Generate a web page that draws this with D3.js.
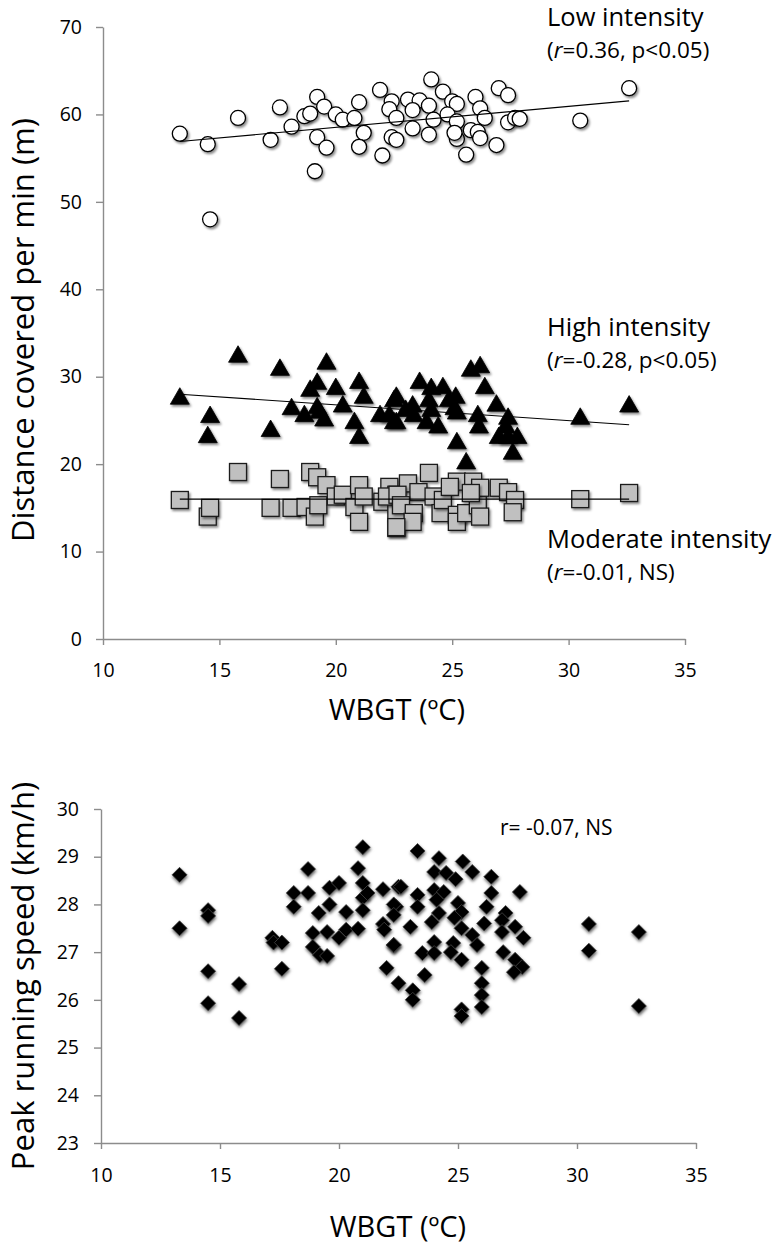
<!DOCTYPE html>
<html>
<head>
<meta charset="utf-8">
<script src="https://cdn.jsdelivr.net/npm/d3@7"></script>
<style>
  html, body { margin: 0; padding: 0; background: #fff; }
  svg { display: block; font-family: "Open Sans", "Noto Sans", sans-serif; }
</style>
</head>
<body>
<svg id="chart" width="780" height="1244"></svg>
<script>
// ---------- DATA ----------
const xTicks = [10, 15, 20, 25, 30, 35];
const yTicksTop = [0, 10, 20, 30, 40, 50, 60, 70];
const yTicksBottom = [23, 24, 25, 26, 27, 28, 29, 30];

const lowX = [13.3,14.5,14.6,15.8,17.2,17.6,18.1,18.65,18.9,19.2,19.2,19.1,19.5,19.6,20.0,20.3,20.8,21.0,21.2,21.0,21.9,22.0,22.4,22.3,22.6,22.4,22.6,24.1,24.6,23.1,23.6,24.0,25.0,25.2,26.0,26.2,27.0,27.4,23.3,24.2,24.8,25.2,26.4,27.4,27.7,27.9,23.3,24.0,25.2,25.1,25.8,26.1,26.2,26.9,25.6,30.5,32.6];
const lowY = [57.8,56.6,48.0,59.6,57.1,60.8,58.6,59.8,60.1,62.0,57.4,53.5,60.9,56.2,60.0,59.4,59.6,61.4,57.9,56.3,62.8,55.3,61.5,60.6,59.6,57.4,57.1,64.0,62.6,61.7,61.6,61.0,61.5,61.2,62.0,60.7,63.0,62.2,60.5,59.4,60.0,59.2,59.6,59.1,59.6,59.5,58.4,57.7,57.2,57.9,58.2,58.0,57.3,56.5,55.4,59.3,63.0];

const highX = [13.3,14.6,14.5,15.8,17.2,17.6,18.1,18.65,18.9,19.2,19.6,19.2,19.3,19.5,20.0,20.3,21.0,21.2,20.8,21.0,21.9,22.6,22.5,22.5,23.6,24.1,24.6,25.8,26.2,26.4,26.9,22.3,23.0,23.3,23.35,22.6,24.0,24.1,23.9,24.4,24.85,25.1,25.2,25.15,25.2,25.6,26.1,26.15,27.4,27.0,27.4,27.8,27.6,27.3,30.5,32.6];
const highY = [27.6,25.5,23.2,32.4,23.9,30.9,26.4,25.6,28.5,29.3,31.6,26.5,26.0,25.1,28.7,26.7,29.4,27.7,24.8,23.1,25.6,27.7,24.8,27.3,29.4,28.7,28.8,30.8,31.2,28.8,26.8,25.6,26.2,26.7,25.6,24.8,27.3,26.2,24.8,24.3,27.3,26.4,25.9,27.7,22.5,20.2,25.6,24.3,25.3,23.1,23.1,23.1,21.3,24.3,25.3,26.7];

const modX = [13.3,14.5,14.6,15.8,17.2,17.6,18.1,18.7,18.9,19.1,19.25,19.2,19.6,20.0,20.3,20.8,21.0,21.0,21.2,22.0,22.3,22.6,22.6,22.6,23.1,24.0,23.55,24.2,25.2,25.9,26.2,27.0,22.2,22.65,22.8,23.35,23.3,22.6,24.5,24.6,25.2,25.2,25.6,26.1,26.2,27.4,27.7,27.6,24.9,25.8,30.5,32.6];
const modY = [15.9,14.0,15.0,19.1,15.0,18.3,15.0,15.1,19.1,14.0,15.3,18.5,17.6,16.3,16.5,15.1,13.4,17.6,16.3,15.7,17.4,14.4,12.7,16.5,17.8,19.0,16.8,16.3,18.0,18.0,17.3,17.3,16.3,16.5,15.3,14.4,13.4,12.8,14.4,15.9,14.2,13.4,14.4,15.3,14.0,16.8,15.9,14.5,17.4,16.7,16.0,16.7];

const peakX = [13.3,13.3,14.5,14.5,14.5,14.5,15.8,15.8,17.2,17.25,17.6,17.6,18.1,18.1,18.7,18.7,18.9,18.9,19.15,19.2,19.5,19.6,19.6,19.5,20.0,20.0,20.3,20.3,20.8,20.8,21.0,21.0,21.0,21.0,21.2,21.85,21.85,22.0,22.3,22.4,22.5,22.5,21.9,23.3,24.2,25.2,25.6,26.4,27.6,24.0,24.5,24.9,22.6,23.3,24.0,24.4,26.4,22.3,23.3,24.1,25.0,26.2,24.2,25.15,27.0,22.3,23.0,23.9,24.85,25.15,26.1,26.85,27.4,26.85,25.6,27.75,22.3,24.0,24.8,25.8,23.5,24.0,24.7,25.15,26.9,27.4,27.7,27.35,23.6,26.0,23.1,23.1,26.0,26.0,26.0,25.15,25.15,30.5,30.5,32.6,32.6];
const peakY = [28.62,27.5,27.88,27.76,26.6,25.93,26.33,25.62,27.3,27.2,27.2,26.65,28.24,27.95,28.74,28.24,27.4,27.11,27.82,26.94,26.92,28.35,28.0,27.42,28.45,27.3,27.84,27.47,28.76,27.49,29.2,28.45,28.14,27.88,28.24,28.32,27.59,26.67,27.15,27.95,26.35,28.37,27.47,29.12,28.97,28.9,28.68,28.58,28.26,28.68,28.66,28.53,28.37,28.2,28.3,28.26,28.24,28.0,27.95,28.1,28.03,27.95,27.82,27.84,27.82,27.78,27.53,27.63,27.72,27.5,27.6,27.67,27.53,27.42,27.36,27.3,27.15,27.21,27.19,27.15,26.98,26.98,27.0,26.84,27.0,26.84,26.69,26.58,26.52,26.67,26.2,26.0,26.35,26.1,25.85,25.8,25.66,27.59,27.03,27.42,25.87];

// trend line end points [x, y]
const trendLow = [[13.3, 56.9], [32.6, 61.55]];
const trendHigh = [[13.3, 28.0], [32.6, 24.5]];
const trendMod = [[13.3, 16.0], [32.6, 16.0]];

// ---------- DRAW ----------
const svg = d3.select("#chart");
const defs = svg.append("defs");
const f1 = defs.append("filter").attr("id", "shadow").attr("x", "-50%").attr("y", "-50%").attr("width", "200%").attr("height", "200%");
f1.append("feDropShadow").attr("dx", 1.5).attr("dy", 2).attr("stdDeviation", 1.2).attr("flood-color", "#000").attr("flood-opacity", 0.45);
const f2 = defs.append("filter").attr("id", "shadow2").attr("x", "-60%").attr("y", "-60%").attr("width", "220%").attr("height", "220%");
f2.append("feDropShadow").attr("dx", 0.5).attr("dy", 2).attr("stdDeviation", 1.8).attr("flood-color", "#000").attr("flood-opacity", 0.6);

const axisColor = "#8c8c8c";
const fmt = d3.format("d");

function styleAxis(g) {
  g.selectAll("path.domain").attr("stroke", axisColor).attr("stroke-width", 1.4);
  g.selectAll(".tick line").attr("stroke", axisColor).attr("stroke-width", 1.4);
  g.selectAll(".tick text").attr("fill", "#000").style("font-size", "19.5px").style("font-family", '"Open Sans", sans-serif');
}

// ---- Top chart ----
const xTop = d3.scaleLinear().domain([10, 35]).range([103, 685]);
const yTop = d3.scaleLinear().domain([0, 70]).range([639, 27]);

const gxTop = svg.append("g").attr("transform", `translate(0,${yTop(0)})`)
  .call(d3.axisBottom(xTop).tickValues(xTicks).tickFormat(fmt).tickSize(6).tickPadding(18).tickSizeOuter(0));
styleAxis(gxTop);
const gyTop = svg.append("g").attr("transform", `translate(${xTop(10)},0)`)
  .call(d3.axisLeft(yTop).tickValues(yTicksTop).tickFormat(fmt).tickSize(7).tickPadding(14).tickSizeOuter(0));
styleAxis(gyTop);

const line = (xs, ys) => d3.line().x(d => xs(d[0])).y(d => ys(d[1]));

// squares (moderate)
const modData = modX.map((x, i) => [x, modY[i]]);
svg.append("g").selectAll("rect").data(modData).join("rect")
  .attr("x", d => xTop(d[0]) - 8.5).attr("y", d => yTop(d[1]) - 8.5)
  .attr("width", 17).attr("height", 17)
  .attr("fill", "#c0c0c0").attr("stroke", "#1a1a1a").attr("stroke-width", 1.3)
  .attr("filter", "url(#shadow)");

// triangles (high)
const highData = highX.map((x, i) => [x, highY[i]]);
svg.append("g").selectAll("path").data(highData).join("path")
  .attr("d", "M0,-10 L9.5,6.5 L-9.5,6.5Z")
  .attr("transform", d => `translate(${xTop(d[0])},${yTop(d[1])})`)
  .attr("fill", "#000").attr("stroke", "#000").attr("stroke-width", 0.8)
  .attr("filter", "url(#shadow)");

// circles (low)
const lowData = lowX.map((x, i) => [x, lowY[i]]);
svg.append("g").selectAll("circle").data(lowData).join("circle")
  .attr("cx", d => xTop(d[0])).attr("cy", d => yTop(d[1])).attr("r", 7.5)
  .attr("fill", "#fff").attr("stroke", "#000").attr("stroke-width", 1.3)
  .attr("filter", "url(#shadow)");

// trend lines
[trendLow, trendHigh, trendMod].forEach(t => {
  svg.append("path").datum(t).attr("d", line(xTop, yTop))
    .attr("fill", "none").attr("stroke", "#000").attr("stroke-width", 1.1);
});

// annotations
function annot(x, y1, y2, title, rtext) {
  svg.append("text").attr("x", x).attr("y", y1).style("font-size", "25.5px").text(title);
  const t = svg.append("text").attr("x", x).attr("y", y2).style("font-size", "22.5px");
  t.append("tspan").text("(");
  t.append("tspan").style("font-style", "italic").text("r");
  t.append("tspan").text(rtext);
}
annot(547, 26, 58, "Low intensity", "=0.36, p<0.05)");
annot(547, 336, 368, "High intensity", "=-0.28, p<0.05)");
annot(547, 548, 580, "Moderate intensity", "=-0.01, NS)");

// axis titles top
svg.append("text").attr("x", 397).attr("y", 720).attr("text-anchor", "middle")
  .style("font-size", "29px").text("WBGT (ºC)");
svg.append("text").attr("transform", "translate(34,330) rotate(-90)").attr("text-anchor", "middle")
  .style("font-size", "31px").text("Distance covered per min (m)");

// ---- Bottom chart ----
const xBot = d3.scaleLinear().domain([10, 35]).range([101, 696]);
const yBot = d3.scaleLinear().domain([23, 30]).range([1143, 809]);

const gxBot = svg.append("g").attr("transform", `translate(0,${yBot(23)})`)
  .call(d3.axisBottom(xBot).tickValues(xTicks).tickFormat(fmt).tickSize(6).tickPadding(19).tickSizeOuter(0));
styleAxis(gxBot);
const gyBot = svg.append("g").attr("transform", `translate(${xBot(10)},0)`)
  .call(d3.axisLeft(yBot).tickValues(yTicksBottom).tickFormat(fmt).tickSize(7).tickPadding(15).tickSizeOuter(0));
styleAxis(gyBot);

const peakData = peakX.map((x, i) => [x, peakY[i]]);
svg.append("g").selectAll("path").data(peakData).join("path")
  .attr("d", "M0,-7.5 L7.5,0 L0,7.5 L-7.5,0Z")
  .attr("transform", d => `translate(${xBot(d[0])},${yBot(d[1])})`)
  .attr("fill", "#000").attr("stroke", "#444").attr("stroke-width", 0.8)
  .attr("filter", "url(#shadow2)");

svg.append("text").attr("x", 500).attr("y", 835).style("font-size", "21px").text("r= -0.07, NS");

svg.append("text").attr("x", 398).attr("y", 1237).attr("text-anchor", "middle")
  .style("font-size", "29px").text("WBGT (ºC)");
svg.append("text").attr("transform", "translate(34,976) rotate(-90)").attr("text-anchor", "middle")
  .style("font-size", "31px").text("Peak running speed (km/h)");
</script>
</body>
</html>
